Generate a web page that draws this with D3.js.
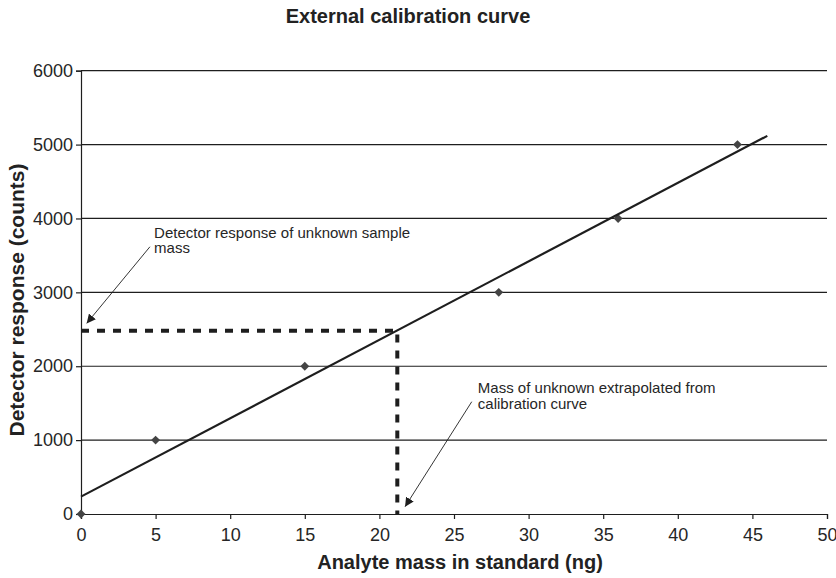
<!DOCTYPE html>
<html>
<head>
<meta charset="utf-8">
<script src="https://cdn.jsdelivr.net/npm/d3@7"></script>
<style>
  body { margin: 0; background: #fff; }
  svg { display: block; font-family: "Liberation Sans", Arial, sans-serif; }
  .tick-label { font-size: 18px; fill: #262626; }
  .note { font-size: 15px; fill: #262626; }
  .bold { font-weight: bold; font-size: 20px; fill: #222; }
</style>
</head>
<body>
<svg width="836" height="578"></svg>
<script>
// calibration standards
var massNg = [0, 5, 15, 28, 36, 44];
var responseCounts = [0, 1000, 2000, 3000, 4000, 5000];

// fitted line as drawn (end points)
var trendMass = [0, 46];
var trendResponse = [235, 5118];

// unknown sample
var unknownMass = 21.2;
var unknownResponse = 2480;

var xTicks = [0, 5, 10, 15, 20, 25, 30, 35, 40, 45, 50];
var yTicks = [0, 1000, 2000, 3000, 4000, 5000, 6000];

var svg = d3.select("svg"),
  width = +svg.attr("width"),
  height = +svg.attr("height");

var x = d3.scaleLinear().domain([0, 50]).range([81, 827]);
var y = d3.scaleLinear().domain([0, 6000]).range([514, 70.7]);

var ink = "#1e1e1e";

// 标题
svg.append("text")
  .attr("class", "bold")
  .attr("x", 408)
  .attr("y", 23)
  .attr("text-anchor", "middle")
  .text("External calibration curve");

// 水平网格线
svg.append("g")
  .selectAll("line")
  .data(yTicks.filter(function (d) { return d > 0; }))
  .enter().append("line")
  .attr("x1", x(0))
  .attr("x2", x(50))
  .attr("y1", function (d) { return y(d); })
  .attr("y2", function (d) { return y(d); })
  .attr("stroke", ink)
  .attr("stroke-width", 1.2);

// y 轴
var yAxis = svg.append("g")
  .attr("transform", "translate(" + x(0) + ",0)")
  .call(d3.axisLeft(y).tickValues(yTicks).tickSize(5).tickPadding(3).tickFormat(d3.format("d")));
yAxis.select(".domain").attr("stroke", ink).attr("stroke-width", 1.2);
yAxis.selectAll(".tick line").attr("stroke", ink).attr("stroke-width", 1.2);
yAxis.selectAll(".tick text").attr("class", "tick-label").attr("font-size", null).attr("font-family", null);

// x 轴
var xAxis = svg.append("g")
  .attr("transform", "translate(0," + y(0) + ")")
  .call(d3.axisBottom(x).tickValues(xTicks).tickSize(5).tickPadding(9).tickFormat(d3.format("d")));
xAxis.select(".domain").attr("stroke", ink).attr("stroke-width", 1.2);
xAxis.selectAll(".tick line").attr("stroke", ink).attr("stroke-width", 1.2);
xAxis.selectAll(".tick text").attr("class", "tick-label").attr("font-size", null).attr("font-family", null);

// 轴标题
svg.append("text")
  .attr("class", "bold")
  .attr("x", 460)
  .attr("y", 569)
  .attr("text-anchor", "middle")
  .text("Analyte mass in standard (ng)");

svg.append("text")
  .attr("class", "bold")
  .style("font-size", "21px")
  .attr("transform", "translate(23.5,300) rotate(-90)")
  .attr("text-anchor", "middle")
  .text("Detector response (counts)");

// 虚线：未知样品
svg.append("path")
  .attr("d", d3.line()([
    [x(0), y(unknownResponse)],
    [x(unknownMass), y(unknownResponse)],
    [x(unknownMass), y(0)]
  ]))
  .attr("fill", "none")
  .attr("stroke", ink)
  .attr("stroke-width", 4)
  .attr("stroke-dasharray", "8,8");

// 数据点（菱形）
svg.append("g")
  .selectAll("path")
  .data(massNg.map(function (m, i) { return [m, responseCounts[i]]; }))
  .enter().append("path")
  .attr("d", d3.symbol().type(d3.symbolDiamond2).size(50))
  .attr("transform", function (d) { return "translate(" + x(d[0]) + "," + y(d[1]) + ")"; })
  .attr("fill", "#444");

// 趋势线
svg.append("line")
  .attr("x1", x(trendMass[0]))
  .attr("y1", y(trendResponse[0]))
  .attr("x2", x(trendMass[1]))
  .attr("y2", y(trendResponse[1]))
  .attr("stroke", ink)
  .attr("stroke-width", 2.2);

// 箭头
svg.append("defs").append("marker")
  .attr("id", "arrow")
  .attr("viewBox", "0 0 10 10")
  .attr("refX", 10)
  .attr("refY", 5)
  .attr("markerWidth", 9)
  .attr("markerHeight", 9)
  .attr("markerUnits", "userSpaceOnUse")
  .attr("orient", "auto")
  .append("path")
  .attr("d", "M0,0L10,5L0,10z")
  .attr("fill", ink);

var notes = [
  {lines: ["Detector response of unknown sample", "mass"], at: [4.9, 3740], from: [4.62, 3617], to: [0.38, 2580]},
  {lines: ["Mass of unknown extrapolated from", "calibration curve"], at: [26.6, 1633], from: [26.19, 1520], to: [21.72, 99]}
];

notes.forEach(function (n) {
  var t = svg.append("text")
    .attr("class", "note")
    .attr("x", x(n.at[0]))
    .attr("y", y(n.at[1]));
  n.lines.forEach(function (s, i) {
    t.append("tspan")
      .attr("x", x(n.at[0]))
      .attr("dy", i === 0 ? 0 : 15.8)
      .text(s);
  });
  svg.append("line")
    .attr("x1", x(n.from[0]))
    .attr("y1", y(n.from[1]))
    .attr("x2", x(n.to[0]))
    .attr("y2", y(n.to[1]))
    .attr("stroke", ink)
    .attr("stroke-width", 0.9)
    .attr("marker-end", "url(#arrow)");
});
</script>
</body>
</html>
